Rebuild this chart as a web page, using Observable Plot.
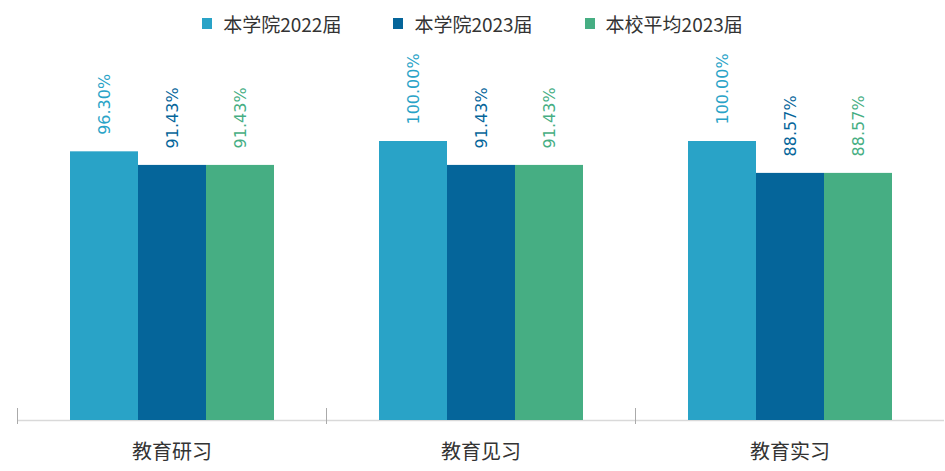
<!DOCTYPE html>
<html><head><meta charset="utf-8">
<script src="https://cdn.jsdelivr.net/npm/d3@7"></script>
<script src="https://cdn.jsdelivr.net/npm/@observablehq/plot@0.6"></script>
<style>
body{margin:0;background:#fff;font-family:"Noto Sans CJK SC","Noto Sans",sans-serif;}
#legend{height:45px;display:flex;justify-content:center;align-items:center;gap:52px;font-size:19px;color:#333;padding-top:2px;box-sizing:border-box;}
#legend .item{display:flex;align-items:center;gap:11px;}
#legend .sw{width:10px;height:11px;display:inline-block;}
</style></head>
<body>
<div id="legend"></div>
<div id="chart"></div>
<script>
const categories = ["教育研习", "教育见习", "教育实习"];
const seriesNames = ["本学院2022届", "本学院2023届", "本校平均2023届"];
const colors = ["#29A3C7", "#05659A", "#46AE83"];
const s2022 = [96.30, 100.00, 100.00];
const s2023 = [91.43, 91.43, 88.57];
const sAvg = [91.43, 91.43, 88.57];

const seriesValues = [s2022, s2023, sAvg];
const data = [];
categories.forEach((c, i) => {
  seriesNames.forEach((s, j) => {
    data.push({category: c, series: s, value: seriesValues[j][i]});
  });
});

const legend = document.getElementById("legend");
seriesNames.forEach((s, j) => {
  const it = document.createElement("div");
  it.className = "item";
  it.innerHTML = `<span class="sw" style="background:${colors[j]}"></span><span>${s}</span>`;
  legend.appendChild(it);
});

const chart = Plot.plot({
  width: 945,
  height: 426,
  marginTop: 96,
  marginBottom: 51,
  marginLeft: 16,
  marginRight: 0,
  style: {fontFamily: '"Noto Sans CJK SC", "Noto Sans", sans-serif', background: "#fff"},
  fx: {domain: categories, padding: 0, label: null, axis: null},
  x: {domain: seriesNames, paddingInner: 0, paddingOuter: 0.765, axis: null},
  y: {domain: [0, 100], axis: null},
  color: {domain: seriesNames, range: colors},
  marks: [
    Plot.ruleY([0], {stroke: "#d9d9d9", strokeWidth: 1.5}),
    Plot.frame({anchor: "left", insetTop: 267, insetBottom: -3, stroke: "#aaa"}),
    Plot.barY(data, {fx: "category", x: "series", y: "value", fill: "series"}),
    Plot.text(data, {fx: "category", x: "series", y: "value", text: d => d.value.toFixed(2) + "%",
      fill: "series", rotate: -90, textAnchor: "start", dy: -17, fontSize: 16,
      fontFamily: '"DejaVu Sans", sans-serif'}),
    Plot.axisFx({anchor: "bottom", tickSize: 0, tickPadding: 24, fontSize: 20, label: null, fill: "#333"})
  ]
});
document.getElementById("chart").appendChild(chart);
</script>
</body></html>
